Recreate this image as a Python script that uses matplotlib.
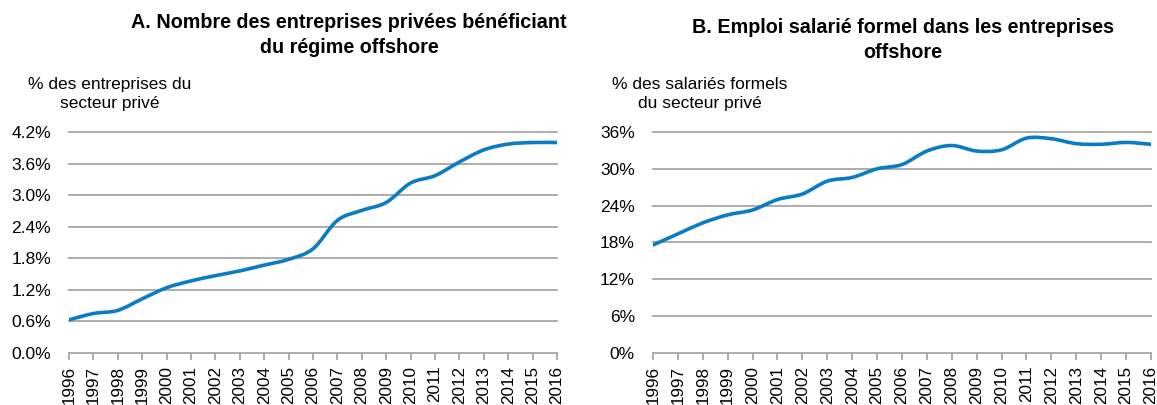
import matplotlib
matplotlib.use('Agg')
import matplotlib.pyplot as plt
from matplotlib.path import Path
from matplotlib.patches import PathPatch
import numpy as np

plt.rcParams['font.family'] = ['Liberation Sans', 'DejaVu Sans']

years = list(range(1996, 2017))

# panel A: % des entreprises du secteur prive
firms = [0.63, 0.75, 0.81, 1.03, 1.24, 1.37, 1.47, 1.56, 1.67, 1.78, 1.98,
         2.52, 2.71, 2.86, 3.23, 3.37, 3.63, 3.86, 3.97, 4.00, 4.00]

# panel B: % des salaries formels du secteur prive
jobs = [17.6, 19.4, 21.2, 22.5, 23.3, 25.0, 25.9, 28.0, 28.6, 30.0, 30.7,
        32.9, 33.8, 32.9, 33.1, 35.0, 34.9, 34.1, 34.0, 34.3, 34.0]

titles = ['A. Nombre des entreprises privées bénéficiant\ndu régime offshore',
          'B. Emploi salarié formel dans les entreprises\noffshore']
units = ['% des entreprises du\nsecteur privé',
         '% des salariés formels\ndu secteur privé']
yticks_a = [0.0, 0.6, 1.2, 1.8, 2.4, 3.0, 3.6, 4.2]
yticks_b = [0, 6, 12, 18, 24, 30, 36]

blue = '#0a7cc4'
grey = '#a6a6a6'


def smooth_path(x, y):
    # bezier through the points, like a spreadsheet "smoothed line"
    pts = np.column_stack([x, y]).astype(float)
    n = len(pts)
    verts = [pts[0]]
    codes = [Path.MOVETO]
    for i in range(n - 1):
        p0 = pts[i - 1] if i > 0 else pts[i]
        p1 = pts[i]
        p2 = pts[i + 1]
        p3 = pts[i + 2] if i + 2 < n else pts[i + 1]
        c1 = p1 + (p2 - p0) / 6.0
        c2 = p2 - (p3 - p1) / 6.0
        verts += [c1, c2, p2]
        codes += [Path.CURVE4] * 3
    return Path(verts, codes)


fig = plt.figure(figsize=(11.57, 4.05), dpi=100)
ax1 = fig.add_axes([69 / 1157, 1 - 353 / 405, (557 - 69) / 1157, (353 - 132) / 405])
ax2 = fig.add_axes([653 / 1157, 1 - 353 / 405, (1151 - 653) / 1157, (353 - 132) / 405])

panels = [(ax1, firms, yticks_a, '{:.1f}%'), (ax2, jobs, yticks_b, '{:.0f}%')]
for ax, vals, yt, fmt in panels:
    ax.add_patch(PathPatch(smooth_path(years, vals), facecolor='none',
                           edgecolor=blue, lw=2.6, capstyle='round', zorder=3))
    ax.set_xlim(1996, 2016)
    ax.set_ylim(yt[0], yt[-1])
    ax.set_yticks(yt)
    ax.set_yticklabels([fmt.format(v) for v in yt], fontsize=12.5)
    for v in yt[1:]:
        ax.axhline(v, color=grey, lw=1.3, zorder=1, clip_on=False)
    ax.set_xticks(years)
    ax.set_xticklabels([str(y) for y in years], rotation=90, fontsize=12.3)
    for s in ['left', 'right', 'top']:
        ax.spines[s].set_visible(False)
    ax.spines['bottom'].set_color(grey)
    ax.spines['bottom'].set_linewidth(1.3)
    ax.tick_params(axis='y', length=0, pad=13)
    ax.tick_params(axis='x', length=5, width=1.3, color=grey, pad=4)

fig.text(349 / 1157, 1 - 35 / 405, titles[0], ha='center', va='center',
         fontsize=14.2, fontweight='bold', linespacing=1.45)
fig.text(903 / 1157, 1 - 40 / 405, titles[1], ha='center', va='center',
         fontsize=14.2, fontweight='bold', linespacing=1.45)
fig.text(110 / 1157, 1 - 94 / 405, units[0], ha='center', va='center',
         fontsize=12.5, linespacing=1.35)
fig.text(700 / 1157, 1 - 94 / 405, units[1], ha='center', va='center',
         fontsize=12.5, linespacing=1.35)

fig.savefig('out.png', dpi=100)
